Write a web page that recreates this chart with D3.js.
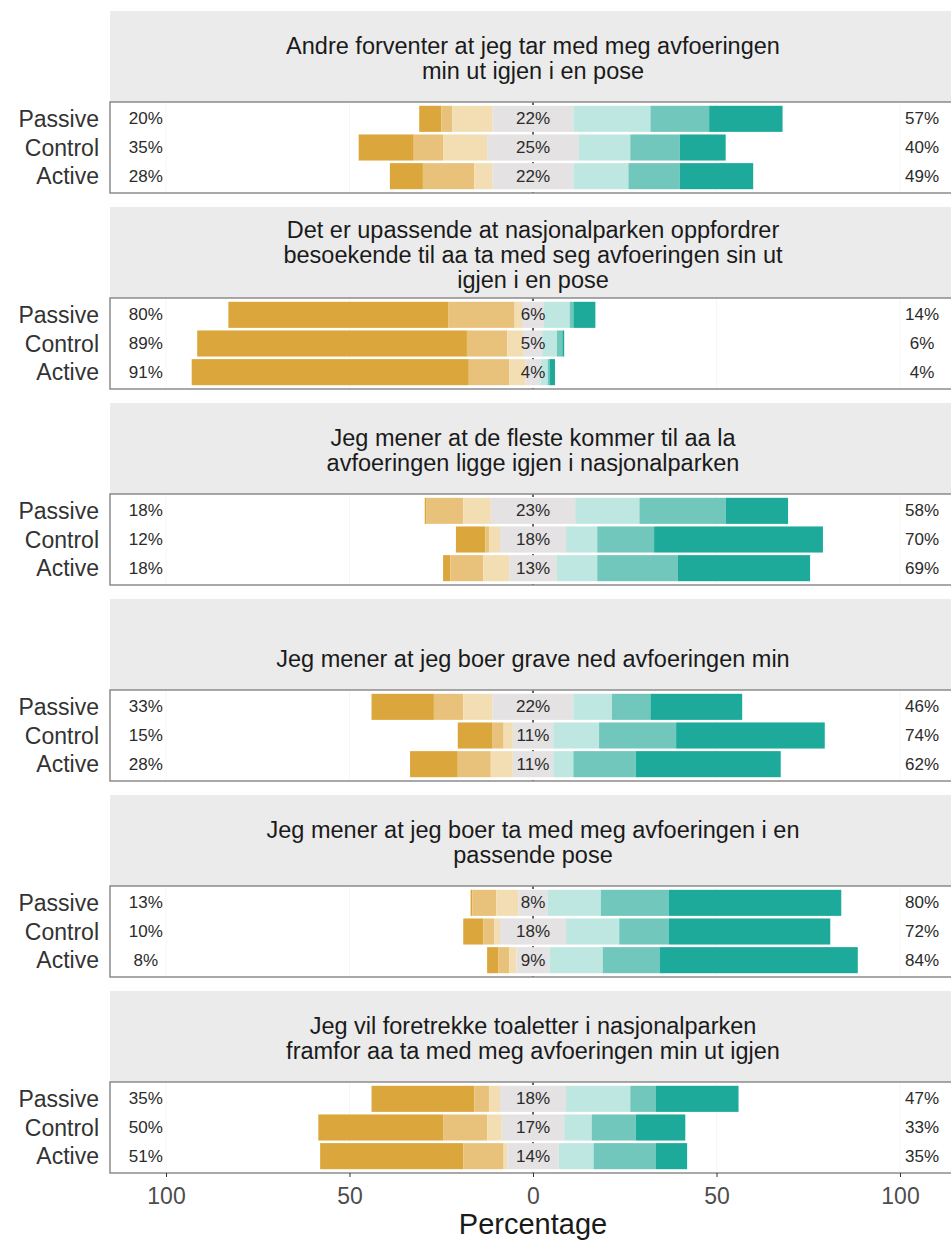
<!DOCTYPE html>
<html>
<head>
<meta charset="utf-8">
<script src="https://cdn.jsdelivr.net/npm/d3@7/dist/d3.min.js"></script>
<style>
  body { margin: 0; background: #fff; }
  svg { display: block; font-family: "Liberation Sans", Arial, sans-serif; }
</style>
</head>
<body>
<div id="chart"></div>
<script>
// groups shown on every facet, top to bottom
const groups = ["Passive", "Control", "Active"];
// 7 point scale, disagree -> agree
const levels = ["strongly_disagree", "disagree", "slightly_disagree", "neutral", "slightly_agree", "agree", "strongly_agree"];
const tickValues = [-100, -50, 0, 50, 100];

// one array per statement, rows = groups, columns = levels (percent)
const item1Title = ["Andre forventer at jeg tar med meg avfoeringen", "min ut igjen i en pose"];
const item1Values = [
  [6, 3, 11, 22, 21, 16, 20],
  [15, 8, 12, 25, 14, 13.5, 12.5],
  [9, 14, 5, 22, 15, 14, 20]
];
const item2Title = ["Det er upassende at nasjonalparken oppfordrer", "besoekende til aa ta med seg avfoeringen sin ut", "igjen i en pose"];
const item2Values = [
  [60, 18, 2, 6, 7, 1, 6],
  [73.5, 11, 4.5, 5, 4, 1.5, 0.5],
  [75.5, 11, 4.5, 4, 2, 0.5, 1.5]
];
const item3Title = ["Jeg mener at de fleste kommer til aa la", "avfoeringen ligge igjen i nasjonalparken"];
const item3Values = [
  [0.5, 10, 7.5, 23, 17.5, 23.5, 17],
  [8, 1, 3, 18, 8.5, 15.5, 46],
  [2, 9, 7, 13, 11, 22, 36]
];
const item4Title = ["", "Jeg mener at jeg boer grave ned avfoeringen min"];
const item4Values = [
  [17, 8, 8, 22, 10.5, 10.5, 25],
  [9.5, 3, 2.5, 11, 12.5, 21, 40.5],
  [13, 9, 6, 11, 5.5, 17, 39.5]
];
const item5Title = ["Jeg mener at jeg boer ta med meg avfoeringen i en", "passende pose"];
const item5Values = [
  [0.5, 6.5, 6, 8, 14.5, 18.5, 47],
  [5.5, 3, 1.5, 18, 14.5, 13.5, 44],
  [3, 3, 2, 9, 14.5, 15.5, 54]
];
const item6Title = ["Jeg vil foretrekke toaletter i nasjonalparken", "framfor aa ta med meg avfoeringen min ut igjen"];
const item6Values = [
  [28, 4, 3, 18, 17.5, 7, 22.5],
  [34, 12, 4, 17, 7.5, 12, 13.5],
  [39, 11, 1, 14, 9.5, 17, 8.5]
];

const levelColors = ["#dba73c", "#e8c27b", "#f3deb3", "#e4e2e2", "#bfe7e2", "#72c7bc", "#1daa9b"];

class LikertFacets {
  constructor(config, items) {
    this.settings = {
      targetElement: config.targetElement,
      width: config.width || 951,
      height: config.height || 1242,
      panelLeft: 110,
      panelRight: 962,
      firstTop: 11,
      stripHeight: 91,
      panelHeight: 91,
      facetStep: 196
    };
    this.items = items;
    this.initializeChart();
  }

  initializeChart() {
    let chart = this;
    let s = chart.settings;

    chart.svg = d3.select(s.targetElement)
      .append('svg')
      .attr('width', s.width)
      .attr('height', s.height);

    // percent axis, 0 sits in the middle of the neutral block
    chart.x = d3.scaleLinear().domain([-100, 100]).range([166, 900]);

    chart.items.forEach((item, i) => chart.drawFacet(item, i));
    chart.drawAxis();
  }

  segments(v) {
    const half = v[3] / 2;
    return levels.map((lvl, k) => {
      let start, end;
      if (k < 3) {
        start = -half - d3.sum(v.slice(k, 3));
        end = start + v[k];
      } else if (k === 3) {
        start = -half;
        end = half;
      } else {
        start = half + d3.sum(v.slice(4, k));
        end = start + v[k];
      }
      return { level: lvl, k: k, start: start, end: end };
    });
  }

  drawFacet(item, i) {
    let chart = this;
    let s = chart.settings;
    const stripTop = s.firstTop + i * s.facetStep;
    const panelTop = stripTop + s.stripHeight;
    const g = chart.svg.append('g').attr('class', 'facet');

    // strip
    g.append('rect')
      .attr('x', s.panelLeft)
      .attr('y', stripTop)
      .attr('width', s.panelRight - s.panelLeft)
      .attr('height', s.stripHeight)
      .attr('fill', '#ebebeb');

    const cx = chart.x(0);
    const cy = stripTop + s.stripHeight / 2 + 2;
    const lh = 25;
    g.selectAll('text.strip')
      .data(item.title)
      .join('text')
      .attr('class', 'strip')
      .attr('x', cx)
      .attr('y', (d, j) => cy + (j - (item.title.length - 1) / 2) * lh)
      .attr('dominant-baseline', 'central')
      .attr('text-anchor', 'middle')
      .attr('font-size', 23.5)
      .attr('fill', '#1a1a1a')
      .text(d => d);

    // panel
    g.append('rect')
      .attr('x', s.panelLeft)
      .attr('y', panelTop)
      .attr('width', s.panelRight - s.panelLeft)
      .attr('height', s.panelHeight)
      .attr('fill', '#fff');

    g.selectAll('line.grid')
      .data(tickValues.filter(t => t !== 0))
      .join('line')
      .attr('class', 'grid')
      .attr('x1', d => chart.x(d)).attr('x2', d => chart.x(d))
      .attr('y1', panelTop).attr('y2', panelTop + s.panelHeight)
      .attr('stroke', '#f6f6f6');

    g.append('line')
      .attr('x1', cx).attr('x2', cx)
      .attr('y1', panelTop).attr('y2', panelTop + s.panelHeight)
      .attr('stroke', '#333')
      .attr('stroke-width', 1.5)
      .attr('stroke-dasharray', '3,3');

    const y = d3.scaleBand()
      .domain(groups)
      .range([panelTop + 2.5, panelTop + s.panelHeight - 2.5])
      .paddingInner(0.09)
      .paddingOuter(0.045);

    const rows = groups.map((grp, r) => ({ group: grp, values: item.values[r] }));

    const rowG = g.selectAll('g.row')
      .data(rows)
      .join('g')
      .attr('class', 'row');

    rowG.selectAll('rect')
      .data(d => chart.segments(d.values).map(seg => Object.assign(seg, { group: d.group })))
      .join('rect')
      .attr('x', d => chart.x(d.start))
      .attr('width', d => Math.max(0, chart.x(d.end) - chart.x(d.start)))
      .attr('y', d => y(d.group))
      .attr('height', y.bandwidth())
      .attr('fill', d => levelColors[d.k]);

    const mid = d => y(d.group) + y.bandwidth() / 2;

    // left / neutral / right percentages
    rowG.append('text')
      .attr('x', chart.x(-105.5))
      .attr('y', mid)
      .text(d => Math.round(d3.sum(d.values.slice(0, 3))) + '%');
    rowG.append('text')
      .attr('x', cx)
      .attr('y', mid)
      .text(d => Math.round(d.values[3]) + '%');
    rowG.append('text')
      .attr('x', chart.x(106))
      .attr('y', mid)
      .text(d => Math.round(d3.sum(d.values.slice(4))) + '%');
    rowG.selectAll('text')
      .attr('text-anchor', 'middle')
      .attr('dominant-baseline', 'central')
      .attr('font-size', 17)
      .attr('fill', '#2b2b2b');

    // group labels
    g.selectAll('text.group')
      .data(groups)
      .join('text')
      .attr('class', 'group')
      .attr('x', s.panelLeft - 11)
      .attr('y', d => y(d) + y.bandwidth() / 2)
      .attr('text-anchor', 'end')
      .attr('dominant-baseline', 'central')
      .attr('font-size', 23)
      .attr('fill', '#333')
      .text(d => d);

    // border
    g.append('rect')
      .attr('x', s.panelLeft)
      .attr('y', panelTop)
      .attr('width', s.panelRight - s.panelLeft)
      .attr('height', s.panelHeight)
      .attr('fill', 'none')
      .attr('stroke', '#8c8c8c')
      .attr('stroke-width', 1.5);

    chart.lastPanelBottom = panelTop + s.panelHeight;
  }

  drawAxis() {
    let chart = this;
    const axisG = chart.svg.append('g')
      .attr('transform', `translate(0,${chart.lastPanelBottom})`)
      .call(d3.axisBottom(chart.x)
        .tickValues(tickValues)
        .tickFormat(d => Math.abs(d))
        .tickSize(4)
        .tickPadding(11));
    axisG.select('.domain').remove();
    axisG.selectAll('.tick line').attr('stroke', '#333');
    axisG.selectAll('.tick text')
      .attr('font-size', 23)
      .attr('font-family', '"Liberation Sans", Arial, sans-serif')
      .attr('fill', '#4d4d4d');

    chart.svg.append('text')
      .attr('x', chart.x(0))
      .attr('y', 1234)
      .attr('text-anchor', 'middle')
      .attr('font-size', 29)
      .attr('fill', '#1a1a1a')
      .text('Percentage');
  }
}

const items = [
  { title: item1Title, values: item1Values },
  { title: item2Title, values: item2Values },
  { title: item3Title, values: item3Values },
  { title: item4Title, values: item4Values },
  { title: item5Title, values: item5Values },
  { title: item6Title, values: item6Values }
];

new LikertFacets({ targetElement: '#chart', width: 951, height: 1242 }, items);
</script>
</body>
</html>
